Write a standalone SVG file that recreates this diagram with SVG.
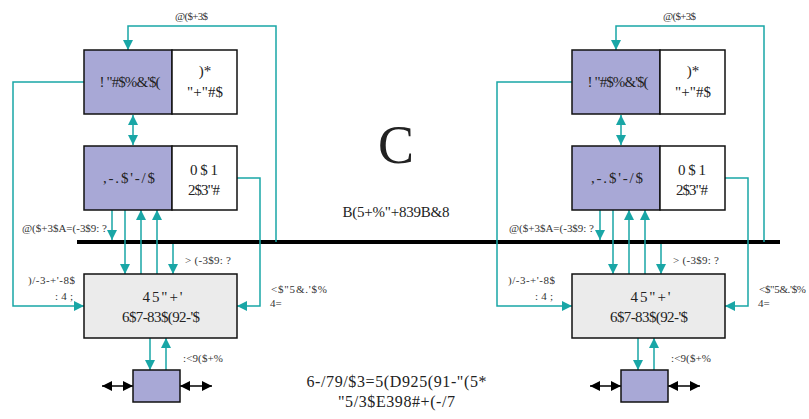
<svg xmlns="http://www.w3.org/2000/svg" width="809" height="419" viewBox="0 0 809 419">
<style>
.pur{fill:#a8a8d6;stroke:#111;stroke-width:1.5}
.wht{fill:#fff;stroke:#111;stroke-width:1.5}
.gry{fill:#ebebeb;stroke:#111;stroke-width:1.5}
.c{fill:none;stroke:#19a6a6;stroke-width:1.5}
.a{marker-end:url(#ta)}
.aa{marker-start:url(#tas);marker-end:url(#ta)}
.b{fill:none;stroke:#000;stroke-width:1.5;marker-start:url(#bas);marker-end:url(#ba)}
.bus{stroke:#000;stroke-width:4}
text{font-family:"Liberation Serif","DejaVu Serif",serif;fill:#222}
.t{font-size:15px;text-anchor:middle}
.l{font-size:11px;fill:#333}
.le{font-size:11px;fill:#333;text-anchor:end}
</style>
<defs>
<marker id="ta" markerUnits="userSpaceOnUse" markerWidth="10" markerHeight="10" refX="10" refY="5" orient="auto"><path d="M0,0 L10,5 L0,10 z" fill="#19a6a6"/></marker>
<marker id="tas" markerUnits="userSpaceOnUse" markerWidth="10" markerHeight="10" refX="0" refY="5" orient="auto"><path d="M10,0 L0,5 L10,10 z" fill="#19a6a6"/></marker>
<marker id="ba" markerUnits="userSpaceOnUse" markerWidth="10" markerHeight="10" refX="10" refY="5" orient="auto"><path d="M0,0 L10,5 L0,10 z" fill="#000"/></marker>
<marker id="bas" markerUnits="userSpaceOnUse" markerWidth="10" markerHeight="10" refX="0" refY="5" orient="auto"><path d="M10,0 L0,5 L10,10 z" fill="#000"/></marker>
</defs>

<g id="bus"><line class="bus" x1="77" y1="242" x2="780" y2="242"/></g>

<g id="connectors">
<polyline class="c a" points="276,242 276,26 128,26 128,50"/>
<polyline class="c a" points="84,82 13,82 13,306 84,306"/>
<line class="c aa" x1="133" y1="115" x2="133" y2="145"/>
<polyline class="c a" points="237,178 260,178 260,306 237,306"/>
<line class="c a" x1="112" y1="210" x2="112" y2="240"/>
<line class="c a" x1="125" y1="210" x2="125" y2="274"/>
<line class="c a" x1="141" y1="274" x2="141" y2="210"/>
<line class="c a" x1="157" y1="274" x2="157" y2="210"/>
<line class="c a" x1="173" y1="244" x2="173" y2="274"/>
<line class="c a" x1="150" y1="338" x2="150" y2="370"/>
<line class="c a" x1="166" y1="370" x2="166" y2="338"/>
<line class="b" x1="102" y1="386" x2="133" y2="386"/>
<line class="b" x1="180" y1="386" x2="212" y2="386"/>
<polyline class="c a" points="764,242 764,26 616,26 616,50"/>
<polyline class="c a" points="572,82 497,82 497,306 572,306"/>
<line class="c aa" x1="621" y1="115" x2="621" y2="145"/>
<polyline class="c a" points="725,178 748,178 748,306 725,306"/>
<line class="c a" x1="600" y1="210" x2="600" y2="240"/>
<line class="c a" x1="613" y1="210" x2="613" y2="274"/>
<line class="c a" x1="629" y1="274" x2="629" y2="210"/>
<line class="c a" x1="645" y1="274" x2="645" y2="210"/>
<line class="c a" x1="661" y1="244" x2="661" y2="274"/>
<line class="c a" x1="638" y1="338" x2="638" y2="370"/>
<line class="c a" x1="654" y1="370" x2="654" y2="338"/>
<line class="b" x1="590" y1="386" x2="621" y2="386"/>
<line class="b" x1="668" y1="386" x2="700" y2="386"/>
</g>

<g id="L_ctrl">
<rect class="pur" x="84" y="50" width="88" height="64"/>
<rect class="wht" x="172" y="50" width="65" height="64"/>
<text class="t" x="130" y="87" textLength="61">! "#$%&amp;'$(</text>
<text class="t" x="205" y="76">)*</text>
<text class="t" x="205" y="97" textLength="36">"+"#$</text>
</g>
<g id="L_mem">
<rect class="pur" x="84" y="146" width="88" height="64"/>
<rect class="wht" x="172" y="146" width="65" height="64"/>
<text class="t" x="129" y="183" textLength="52">,-.$'-/$</text>
<text class="t" x="204" y="175" textLength="28">0$1</text>
<text class="t" x="204" y="195" textLength="32">2$3"#</text>
</g>
<g id="L_io">
<rect class="gry" x="84" y="274" width="153" height="64"/>
<text class="t" x="162.5" y="302" textLength="40">45"+'</text>
<text class="t" x="161" y="322" textLength="78">6$7-83$(92-'$</text>
</g>
<g id="L_dev"><rect class="pur" x="133" y="370" width="47" height="32"/></g>

<g id="R_ctrl">
<rect class="pur" x="572" y="50" width="88" height="64"/>
<rect class="wht" x="660" y="50" width="65" height="64"/>
<text class="t" x="618" y="87" textLength="61">! "#$%&amp;'$(</text>
<text class="t" x="693" y="76">)*</text>
<text class="t" x="693" y="97" textLength="36">"+"#$</text>
</g>
<g id="R_mem">
<rect class="pur" x="572" y="146" width="88" height="64"/>
<rect class="wht" x="660" y="146" width="65" height="64"/>
<text class="t" x="617" y="183" textLength="52">,-.$'-/$</text>
<text class="t" x="692" y="175" textLength="28">0$1</text>
<text class="t" x="692" y="195" textLength="32">2$3"#</text>
</g>
<g id="R_io">
<rect class="gry" x="572" y="274" width="153" height="64"/>
<text class="t" x="650.5" y="302" textLength="40">45"+'</text>
<text class="t" x="649" y="322" textLength="78">6$7-83$(92-'$</text>
</g>
<g id="R_dev"><rect class="pur" x="621" y="370" width="47" height="32"/></g>

<g id="labels">
<text class="l" x="175" y="20" textLength="33">@($+3$</text>
<text class="l" x="22" y="232" textLength="85">@($+3$A=(-3$9: ?</text>
<text class="l" x="185" y="264" textLength="46">&gt; (-3$9: ?</text>
<text class="le" x="75" y="284" textLength="47">)/-3-+'-8$</text>
<text class="le" x="73" y="300" textLength="18">:4;</text>
<text class="l" x="271" y="293" textLength="56">&lt;$"5&amp;.'$%</text>
<text class="l" x="270" y="307">4=</text>
<text class="l" x="183" y="362" textLength="40">:&lt;9($+%</text>

<text class="l" x="663" y="20" textLength="33">@($+3$</text>
<text class="l" x="509" y="232" textLength="85">@($+3$A=(-3$9: ?</text>
<text class="l" x="673" y="264" textLength="46">&gt; (-3$9: ?</text>
<text class="le" x="555" y="284" textLength="47">)/-3-+'-8$</text>
<text class="le" x="553" y="300" textLength="18">:4;</text>
<text class="l" x="759" y="293" textLength="47">&lt;$"5&amp;.'$%</text>
<text class="l" x="758" y="307">4=</text>
<text class="l" x="671" y="362" textLength="40">:&lt;9($+%</text>

<text x="396" y="163" font-size="54" text-anchor="middle" fill="#111">C</text>
<text class="t" x="396" y="217" textLength="107">B(5+%"+839B&amp;8</text>
<text x="396.5" y="387" font-size="16" text-anchor="middle" textLength="180">6-/79/$3=5(D925(91-"(5*</text>
<text x="396.5" y="407" font-size="16" text-anchor="middle" textLength="117">"5/3$E398#+(-/7</text>
</g>
</svg>
